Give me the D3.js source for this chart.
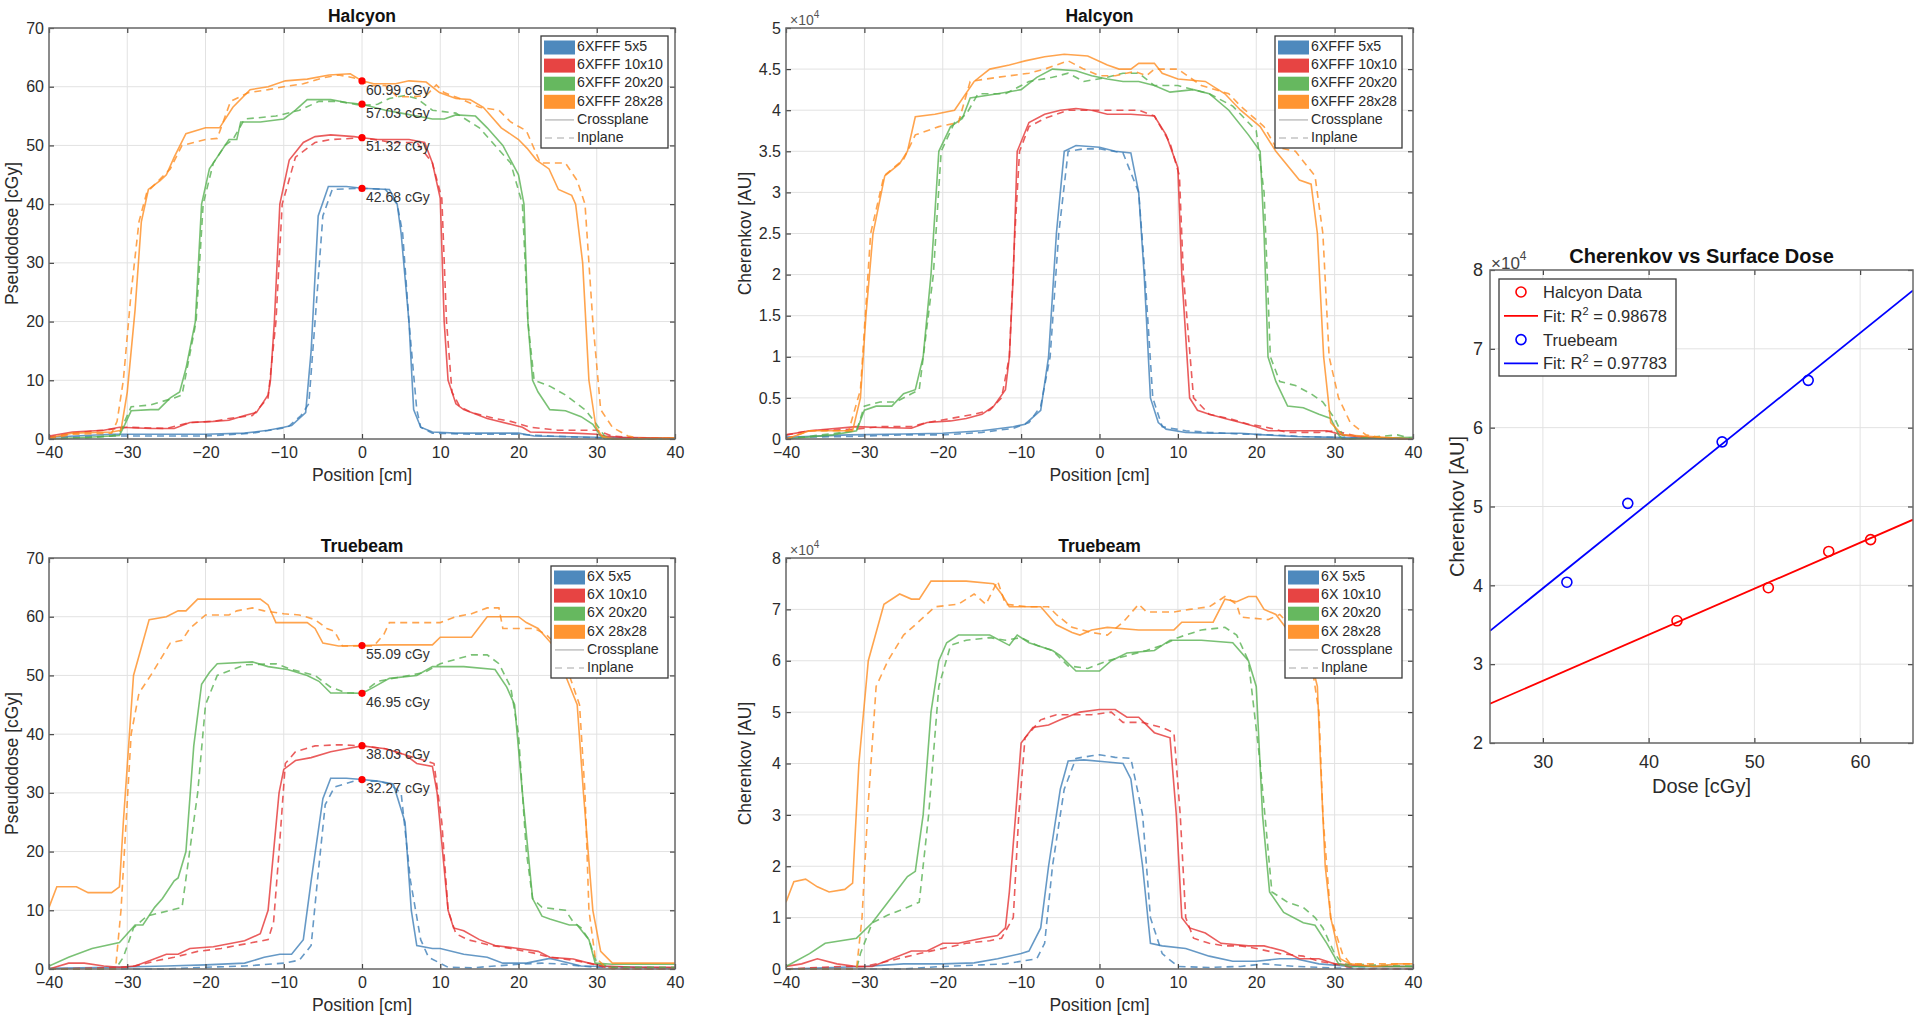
<!DOCTYPE html>
<html><head><meta charset="utf-8">
<script src="https://cdn.jsdelivr.net/npm/d3@7"></script>
<style>
html,body{margin:0;padding:0;background:#fff;}
svg{display:block;font-family:"Liberation Sans",Arial,Helvetica,sans-serif;}
</style></head><body>
<svg id="chart" width="1922" height="1022"></svg>
<script>
// ---------------- DATA ----------------
const positionTicks = [-40,-30,-20,-10,0,10,20,30,40];
const doseTicks = [0,10,20,30,40,50,60,70];
const cherHalTicks = [0,0.5,1,1.5,2,2.5,3,3.5,4,4.5,5];   // x10^4
const cherTbTicks = [0,1,2,3,4,5,6,7,8];                  // x10^4
const halLegend = ["6XFFF 5x5","6XFFF 10x10","6XFFF 20x20","6XFFF 28x28","Crossplane","Inplane"];
const tbLegend = ["6X 5x5","6X 10x10","6X 20x20","6X 28x28","Crossplane","Inplane"];
const halCentralDose = [60.99, 57.03, 51.32, 42.68];
const tbCentralDose = [55.09, 46.95, 38.03, 32.27];

// Halcyon pseudodose [cGy] : [position cm, value]
const hdB_c = [[-40,0.3],[-32,0.8],[-20,0.8],[-15,1],[-12,1.5],[-10,2],[-9,2.3],[-7.2,4.5],[-6.5,15],[-5.6,38],[-4.3,43],[-2,43],[0,42.7],[3.5,42.5],[4.5,40],[5,35],[6,20],[6.6,5],[7.5,2],[9,1.2],[12,1],[20,1],[22,0.5],[30,0.3],[40,0.1]];
const hdB_i = [[-40,0.2],[-32,0.5],[-20,0.5],[-14,1],[-9.5,2],[-7.8,4],[-6.8,6],[-6,20],[-5,38],[-3.8,42.5],[0,42.7],[3,42.5],[4.5,40],[5.2,35],[6,20],[7,5],[7.5,2],[9,1],[14,0.8],[20,0.8],[24,0.5],[30,0.2],[40,0.1]];
const hdR_c = [[-40,0.5],[-37,1.2],[-33,1.5],[-31,2],[-27,1.8],[-24,1.8],[-22,2.8],[-19,3],[-17,3.2],[-15,4],[-13.5,4.5],[-12,7.5],[-11.7,10],[-11.2,20],[-10.5,40],[-9.3,47.5],[-7.5,50.5],[-6,51.5],[-4,51.8],[-1,51.5],[0,51.3],[2,51],[6,51],[8,50.5],[9,47],[10,41],[10.5,20],[11,10],[12,6],[13,5],[14,4.5],[16,3.5],[19,2.5],[20.5,2],[21.5,1.2],[27,1],[30,0.8],[31,0.5],[33,0.3],[40,0.1]];
const hdR_i = [[-40,0.3],[-37,1],[-33,1.5],[-30,2],[-25,1.8],[-22,2.8],[-19,3],[-17,3.5],[-14,4],[-12,7],[-11,20],[-10.2,40],[-8.5,48],[-6,50.5],[-4,51],[0,51.3],[4,50.5],[7,50.5],[9,47],[10.2,41],[10.8,20],[11.5,8],[12.5,5.5],[14,4.5],[17,3.5],[19,3],[21.5,2],[25,1.5],[30,1.5],[32,0.5],[35,0.2],[40,0.1]];
const hdG_c = [[-40,0],[-35,0.3],[-31,0.6],[-30.3,2.5],[-29.5,4.8],[-27,5],[-26,5],[-24.5,7],[-23.3,8],[-22.5,12],[-21.3,20],[-20.5,40],[-19.5,46],[-18.5,48],[-17,51],[-16,51],[-15.5,54],[-13,54],[-10,54.5],[-8.5,56],[-7,57.8],[-4,57.8],[-2,57.3],[0,57],[3,56],[5,55.5],[7,55],[9,54.5],[10.5,54.5],[12,55.2],[14.5,55],[16,53],[18,50],[20,45],[20.7,40],[21.2,20],[21.8,10],[22.5,8],[24,5],[26,4.8],[28,3.8],[29.5,2.5],[30.5,0.5],[31,0],[40,0]];
const hdG_i = [[-40,0],[-35,0.2],[-32,0.5],[-31,1],[-29.5,5.5],[-27,5.8],[-24,7],[-23,7.5],[-21.2,20],[-20.3,40],[-19,47],[-17.5,50],[-16.5,51],[-15,54.5],[-11,55],[-8,56],[-5.5,57.5],[-3,57.5],[0,56.8],[2,57],[3.5,58],[5.5,58.5],[7,58],[9,56],[12,55.5],[15,53],[17,50],[19,47],[20.5,40],[21.2,20],[22,10],[24,9],[26,7.5],[27,6.5],[28.5,5],[29.7,3],[31,0.5],[32,0],[40,0]];
const hdO_c = [[-40,0.2],[-37,1],[-32,1.2],[-30.8,1.5],[-30,8],[-29,22],[-28.2,37],[-27.3,42.5],[-25.8,44],[-25,45],[-24,48],[-22.5,52],[-20,53],[-18.2,53],[-16.5,56.5],[-14.3,59.5],[-12,60],[-9.8,61],[-7,61.3],[-4.2,62],[-1.5,62.2],[0,61],[1.5,60.5],[4.3,60.5],[6,61],[8.2,60.8],[9.9,59],[12,58],[13.8,57.8],[15.5,56.5],[17.8,53],[20,51],[21.1,49.5],[22.3,47.5],[23.9,46],[25.1,42.5],[26.8,41.5],[27.3,40],[28.2,30],[29,10],[29.9,2],[30.7,0.4],[32.4,0],[40,0.2]];
const hdO_i = [[-40,0],[-37,0.8],[-32,1],[-31.3,3],[-30.5,10],[-29.5,25],[-28.5,37],[-27.5,42],[-26,44],[-24.5,46],[-23,50],[-21.5,50.5],[-20,51],[-18.5,51.2],[-16.8,57.5],[-14.5,59],[-12,59.5],[-10,60],[-7.5,60.5],[-5,61.5],[-3,62],[-1,61.5],[0,61],[1,60.2],[3,60.2],[4.5,58.3],[6.5,58.3],[8.2,58.5],[9.5,60.3],[10.5,59],[12.5,58],[15,56.5],[17.5,56],[19,54],[21,52.5],[22.8,47],[26,47],[27.5,44],[28.5,40],[29.5,20],[30.5,5],[32,2],[34,0.5],[36,0],[40,0]];

// Halcyon Cherenkov [x10^4 AU]
const hcB_c = [[-40,0.02],[-32,0.05],[-25,0.06],[-20,0.07],[-15,0.1],[-11,0.15],[-9.5,0.18],[-7.5,0.35],[-6.5,1],[-5.5,2.5],[-4.5,3.5],[-3,3.57],[0,3.55],[2,3.5],[4,3.48],[5,3],[5.7,2],[6.5,0.5],[7.5,0.2],[8.5,0.12],[11,0.08],[14,0.07],[18,0.07],[21,0.05],[25,0.03],[30,0.02],[40,0]];
const hcB_i = [[-40,0.02],[-32,0.03],[-25,0.05],[-20,0.05],[-15,0.08],[-11,0.13],[-9,0.2],[-7.5,0.4],[-6.3,1],[-5.2,2.5],[-4,3.5],[-2,3.53],[0,3.53],[3,3.48],[5,3],[5.8,2],[6.8,0.5],[8,0.15],[11,0.1],[14,0.08],[18,0.06],[22,0.05],[26,0.03],[30,0.02],[40,0]];
const hcR_c = [[-40,0.05],[-37,0.1],[-31,0.15],[-28,0.14],[-24,0.13],[-22,0.2],[-19,0.22],[-17,0.25],[-15,0.3],[-13.5,0.4],[-12,0.6],[-11.5,1],[-11,2],[-10.5,3.5],[-9,3.85],[-7,3.95],[-5,4],[-3,4.02],[-1,4],[1,3.95],[4,3.95],[7,3.93],[8.5,3.7],[10,3.3],[10.5,2],[11.5,0.5],[12.5,0.35],[14,0.3],[16,0.25],[18,0.2],[20,0.15],[21.5,0.1],[25,0.1],[29,0.1],[31,0.05],[34,0.02],[40,0]];
const hcR_i = [[-40,0.05],[-37,0.1],[-31,0.12],[-28,0.15],[-24,0.15],[-22,0.2],[-19,0.25],[-16,0.3],[-14,0.35],[-12.5,0.5],[-11.5,1],[-10.8,2.5],[-10.2,3.5],[-9,3.8],[-7,3.9],[-4,4],[0,4],[5,4],[7,3.93],[9,3.6],[10.2,3.2],[10.7,2],[12,0.5],[14,0.3],[16.5,0.25],[19,0.18],[21,0.15],[24,0.08],[28,0.08],[30,0.1],[33,0.03],[40,0]];
const hcG_c = [[-40,0],[-34,0.05],[-31,0.1],[-30,0.35],[-28.5,0.4],[-26.5,0.4],[-25,0.55],[-23.5,0.6],[-22.5,1],[-21.5,2],[-20.5,3.5],[-19,3.8],[-17.5,3.9],[-16.5,4.15],[-13,4.2],[-10,4.25],[-8,4.4],[-6,4.5],[-3,4.48],[-1,4.42],[1,4.38],[3,4.35],[5,4.35],[7,4.3],[9,4.22],[12,4.25],[14,4.2],[16.5,4],[19,3.7],[20.5,3.5],[21,2.5],[21.5,1],[22.5,0.7],[24,0.4],[26,0.38],[28,0.3],[29.5,0.25],[30.5,0.05],[31,0],[40,0.02]];
const hcG_i = [[-40,0],[-31,0.1],[-30,0.4],[-28,0.45],[-26,0.45],[-24,0.55],[-23,0.6],[-21.2,2],[-20.2,3.5],[-18.5,3.85],[-17,3.95],[-15.5,4.2],[-12,4.2],[-9,4.35],[-6,4.4],[-4,4.45],[-2,4.35],[1,4.4],[3,4.45],[5,4.45],[7,4.3],[10,4.3],[14,4.2],[17,4.05],[20,3.75],[21,3],[21.8,1],[23,0.7],[25,0.65],[27,0.55],[28.5,0.45],[30,0.25],[31,0.05],[32,0],[38,0.05],[40,0]];
const hcO_c = [[-40,0],[-37,0.1],[-31.5,0.1],[-30.5,0.5],[-29.8,1.5],[-28.9,2.5],[-27.4,3.2],[-25.5,3.35],[-24.5,3.5],[-23.5,3.92],[-21,3.95],[-18.5,4.0],[-16,4.35],[-14,4.5],[-11.5,4.55],[-9.5,4.6],[-7,4.65],[-4.5,4.68],[-1.5,4.66],[1,4.55],[2.5,4.5],[4,4.5],[5,4.57],[7,4.57],[8,4.45],[10,4.38],[13.5,4.35],[16,4.2],[18,4.0],[20.5,3.8],[22.5,3.5],[25.5,3.15],[27,3.1],[27.8,2.5],[28.6,1],[29.5,0.2],[31,0.05],[40,0]];
const hcO_i = [[-40,0],[-37,0.1],[-32,0.1],[-30.5,0.6],[-29.2,2.5],[-27.5,3.2],[-25,3.4],[-23.5,3.7],[-20.5,3.8],[-18,3.85],[-16.5,4.35],[-13,4.4],[-9,4.45],[-7,4.5],[-4,4.6],[-2,4.5],[0,4.42],[2,4.42],[4.5,4.47],[6,4.42],[7,4.5],[10,4.5],[13,4.3],[16.5,4.2],[18,4.05],[21,3.8],[22.5,3.55],[25,3.5],[27.5,3.2],[28.5,2.5],[29.3,1],[30.5,0.5],[32,0.2],[34,0.05],[37,0],[40,0]];

// Truebeam pseudodose [cGy]
const tdB_c = [[-40,0.1],[-32,0.3],[-25,0.5],[-20,0.7],[-15,1],[-12.5,2],[-10.5,2.5],[-9,2.5],[-7.5,5],[-6.5,15],[-5,29],[-4,32.5],[-2,32.5],[0,32.27],[2,32],[4,31.5],[5.5,25],[6.3,10],[7,4],[9,3.5],[10,3.5],[13,2.5],[16,2],[18,1],[21,1],[24,1.8],[25,1.5],[28,0.5],[35,0.3],[40,0.2]];
const tdB_i = [[-40,0],[-25,0],[-20,0.3],[-15,0.5],[-12,0.8],[-10,1],[-8,1.5],[-6.5,4],[-5.7,15],[-4.7,28],[-3.5,31],[-1,32],[2,32],[3.5,31.5],[5,30],[6.2,15],[7.5,5],[8.5,2],[11,0.3],[14,0.2],[17,0.5],[20,0.8],[23,1],[26,0.8],[28,0.5],[30,0.3],[40,0.2]];
const tdR_c = [[-40,0],[-37.5,1],[-35.5,1],[-33,0.5],[-31,0.3],[-29,0.5],[-27,1.5],[-25,2.5],[-23.5,2.5],[-22,3.5],[-19,3.8],[-17,4.3],[-15,4.8],[-13,6],[-12,10],[-11.3,20],[-10.6,30],[-10,34],[-8.5,35.5],[-6.5,36],[-4,37],[-2,37.5],[0,38],[3,37.5],[5.5,36.5],[7,35],[9,34.5],[9.6,30],[10.3,20],[11,10],[11.7,7],[13,6.5],[15,5],[17,4],[20,3.5],[22.5,3],[24,2],[27,1.7],[29,1],[31,0.5],[35,0.3],[40,0.3]];
const tdR_i = [[-40,0],[-33,0.2],[-30,0.3],[-28,0.8],[-26,1.5],[-24,2],[-21,3],[-18,3.5],[-16,4],[-14,4.5],[-12,5],[-11.3,8],[-10.6,20],[-9.8,35],[-8.5,37],[-6,38],[-3,38.2],[0,38],[3,37.5],[5.5,36.5],[8,35.5],[9.2,35],[10.2,25],[11,10],[12,6],[13.5,5],[16.5,4],[19,3.5],[22,2.7],[24,2],[27,1.5],[29,1],[31,0.3],[34,0],[40,0]];
const tdG_c = [[-40,0.5],[-37.5,2],[-34.5,3.5],[-31,4.5],[-29,7.5],[-28,7.5],[-26.5,10.5],[-25.5,12],[-24,15],[-23.5,15.5],[-22.5,20],[-21.5,38],[-20.5,48.5],[-19.5,50.5],[-18.5,52],[-14,52.3],[-12,51.5],[-9.5,51],[-7,50],[-5.5,49],[-4,47],[-1.5,47],[0,46.95],[1.5,48],[3.5,49.5],[7,50],[9,51.5],[13,51.5],[17,51],[18.5,48],[19.5,45],[20.5,30],[21.8,12],[23,9],[24,8.5],[26.5,7.5],[27.5,7.5],[29,5],[29.8,1],[32,0.8],[40,0.8]];
const tdG_i = [[-40,0],[-31.5,0],[-30.5,2],[-29.2,7],[-27.5,9],[-24.5,10],[-23,10.5],[-21,30],[-20,45],[-18.5,50],[-15,51.8],[-11,52],[-9,51],[-6,50],[-4,48],[-2,47],[0,47],[2,49],[6,50],[8,50.5],[10,52],[14,53.5],[16,53.5],[17.5,52],[19,48],[20,40],[21,20],[21.8,12],[23,10.5],[26,10],[27,8],[28,7],[29,5],[30,1],[32,0.3],[40,0.3]];
const tdO_c = [[-40,10.5],[-39,14],[-36.5,14],[-35,13],[-32,13],[-31,14],[-30.5,25],[-29.2,50],[-27.2,59.5],[-25,60],[-23.5,61],[-22.5,61],[-21,63],[-17,63],[-13,63],[-12,62],[-11,59],[-7,59],[-6,58],[-5,55.5],[-3,55],[0,55.09],[3,55.2],[9,55.2],[10,56.5],[14,56.5],[16,60],[20,60],[21,59],[22.5,58],[24.5,55],[26,50],[27.5,45],[28.3,30],[29.5,10],[30.5,3],[32,1],[40,1]];
const tdO_i = [[-40,0],[-31.5,0],[-30.8,10],[-29.5,40],[-28.5,47],[-27,50],[-24.5,55.5],[-23,56],[-22,58],[-20,60.3],[-17,60.3],[-16,61],[-14,61.5],[-12.5,61],[-10,60.5],[-8,60.3],[-6,59.5],[-4.5,58],[-3.5,57.5],[-2.5,55],[1.5,55],[2.8,57],[3.5,59],[10,59],[12,60],[14,60.5],[16,61.5],[17.5,61.5],[18,58],[22,58],[23.5,57],[25,55],[26.5,50],[27.8,45],[28.5,30],[29,10],[29.8,2],[31,0.5],[32,0],[40,0]];

// Truebeam Cherenkov [x10^4 AU]
const tcB_c = [[-40,0],[-30,0.05],[-25,0.1],[-20,0.1],[-16,0.12],[-13,0.2],[-10,0.3],[-9,0.35],[-7.5,0.8],[-6.5,2],[-5,3.5],[-4,4.05],[-2,4.07],[1,4.03],[3,4],[4,3.7],[5.5,2],[6.5,0.5],[8,0.45],[11,0.4],[14,0.25],[17,0.15],[20,0.15],[23,0.2],[25,0.2],[28,0.1],[32,0.05],[40,0.05]];
const tcB_i = [[-40,0],[-25,0],[-20,0.05],[-15,0.08],[-12,0.1],[-10,0.15],[-8,0.2],[-7,0.5],[-6,2],[-4.5,3.5],[-3,4.1],[-1,4.15],[0,4.17],[2,4.12],[4,4.1],[5.5,3],[6.5,1],[8,0.3],[10,0.05],[14,0.03],[18,0.05],[21,0.1],[25,0.05],[30,0.02],[40,0]];
const tcR_c = [[-40,0.05],[-38,0.1],[-36,0.2],[-33.5,0.1],[-31,0.05],[-29,0.05],[-26.5,0.2],[-24,0.35],[-22,0.35],[-20,0.5],[-18,0.5],[-15,0.6],[-13,0.65],[-12,0.8],[-11.5,1.5],[-10.7,3],[-10,4.4],[-8.5,4.7],[-6.5,4.75],[-5,4.85],[-2.5,5],[0,5.05],[2,5.05],[3.5,4.9],[5,4.9],[7,4.6],[9,4.5],[9.8,3],[10.5,1],[11.5,0.8],[13.5,0.7],[15.5,0.5],[19,0.45],[21,0.45],[23.5,0.35],[25.5,0.2],[28,0.2],[30,0.1],[35,0.05],[40,0.05]];
const tcR_i = [[-40,0],[-33,0.05],[-30,0.05],[-27,0.15],[-23,0.3],[-20,0.4],[-17,0.5],[-14,0.55],[-12.5,0.6],[-11,1],[-10.3,3],[-9.5,4.5],[-7.5,4.85],[-5.5,4.95],[-1,4.95],[1.5,5.0],[3,4.8],[5.5,4.8],[8,4.7],[9.5,4.6],[10.3,3],[11,1],[12,0.6],[14,0.5],[16,0.45],[18,0.45],[20,0.4],[23,0.3],[26,0.25],[28,0.15],[30,0.1],[33,0],[40,0]];
const tcG_c = [[-40,0.05],[-37,0.3],[-35,0.5],[-31,0.6],[-29,0.9],[-27,1.3],[-24.5,1.8],[-23.5,1.9],[-22.5,3],[-21.5,5],[-20.5,6],[-19.5,6.35],[-18,6.5],[-14,6.5],[-11.5,6.3],[-10.5,6.5],[-9,6.35],[-6,6.2],[-5,6.1],[-3,5.8],[0,5.8],[1.5,6],[3.5,6.15],[7,6.2],[9,6.4],[13,6.4],[17,6.35],[19,6.0],[20,5.5],[20.8,3],[21.7,1.5],[23.5,1.1],[26,0.9],[27.5,0.85],[29,0.5],[30.5,0.1],[32,0.05],[40,0.05]];
const tcG_i = [[-40,0],[-31,0],[-30.5,0.3],[-29,0.9],[-27,1.05],[-24.5,1.2],[-23,1.3],[-21.8,3],[-20.5,5.5],[-19,6.3],[-17,6.4],[-14,6.45],[-12,6.4],[-10,6.45],[-8,6.3],[-6,6.2],[-4,5.9],[-1.5,5.85],[1,6],[3.5,6.1],[6,6.2],[8,6.3],[10,6.45],[13,6.6],[16,6.65],[17.5,6.5],[19,6.0],[20.5,4],[22,1.5],[24,1.3],[26,1.2],[27.5,1],[28.5,0.8],[30,0.3],[31,0.1],[40,0.05]];
const tcO_c = [[-40,1.3],[-39,1.7],[-37.5,1.75],[-36,1.6],[-34.5,1.5],[-32.5,1.55],[-31.5,1.67],[-30.7,4],[-29.5,6],[-27.5,7.1],[-25.5,7.3],[-24,7.2],[-23,7.2],[-21.5,7.55],[-17,7.55],[-13.5,7.5],[-12.5,7.3],[-11.5,7.05],[-7.5,7.05],[-5.5,6.7],[-3.5,6.55],[-2.5,6.5],[-1,6.6],[1,6.65],[5,6.6],[9.5,6.6],[10.5,6.75],[14.5,6.75],[16,7.2],[17.5,7.15],[19,7.25],[20,7.25],[21,7.0],[22.5,6.9],[24,6.6],[27,6.0],[27.8,5.5],[28.2,4],[28.8,2],[29.5,1],[30.7,0.2],[32,0.1],[35,0.05],[38,0.1],[40,0.1]];
const tcO_i = [[-40,0],[-31,0],[-30.3,1],[-29.6,3],[-28.5,5.5],[-27,6],[-25,6.5],[-23.5,6.7],[-21,7.05],[-18,7.1],[-16,7.3],[-14.5,7.1],[-13,7.55],[-12,7.1],[-9,7.05],[-6.5,7.05],[-5.5,6.9],[-3.5,6.65],[-1,6.55],[1,6.5],[3,6.75],[5,7.1],[6,6.95],[9.5,6.95],[11.5,7.0],[14,7.05],[16,7.25],[17.5,7.1],[18,6.85],[21.5,6.8],[23,6.9],[25.5,6.5],[27,6],[28,5],[28.5,3],[29.5,1],[31,0.3],[32,0.1],[40,0.1]];

// Cherenkov vs surface dose
const doseTicks2 = [30,40,50,60];
const cherTicks2 = [2,3,4,5,6,7,8]; // x10^4
const doseHalcyon = [42.68, 51.32, 57.03, 60.99];
const cherHalcyon = [3.55, 3.97, 4.43, 4.58];
const doseTruebeam = [32.27, 38.03, 46.95, 55.09];
const cherTruebeam = [4.04, 5.04, 5.82, 6.60];
const fitLabels = ["0.98678", "0.97783"];

// ---------------- DRAWING ----------------
const svg = d3.select("#chart");
const FONT = '"Liberation Sans", Arial, Helvetica, sans-serif';
const COL = ["#3b7cb6", "#e4302f", "#55b04e", "#ff8a1c"];
const AXC = "#6a6a6a", GRID = "#e2e2e2", TXT = "#2b2b2b";
let clipId = 0;

function frame(g, x, y, xt, yt, yfmt, fs, xpad, ypad) {
  const [L, R] = x.range(), [B, T] = y.range();
  g.append("g").selectAll("line").data(xt).join("line")
    .attr("x1", d => x(d)).attr("x2", d => x(d)).attr("y1", T).attr("y2", B)
    .attr("stroke", GRID).attr("stroke-width", 1);
  g.append("g").selectAll("line").data(yt).join("line")
    .attr("y1", d => y(d)).attr("y2", d => y(d)).attr("x1", L).attr("x2", R)
    .attr("stroke", GRID).attr("stroke-width", 1);
}
function frameTop(g, x, y, xt, yt, yfmt, fs, xpad, ypad) {
  const [L, R] = x.range(), [B, T] = y.range();
  const style = sel => {
    sel.select(".domain").remove();
    sel.selectAll(".tick line").attr("stroke", "#444").attr("stroke-width", 1.2);
    sel.selectAll(".tick text").attr("fill", TXT).style("font-size", fs + "px").style("font-family", FONT);
  };
  g.append("g").attr("transform", `translate(0,${B})`)
    .call(d3.axisBottom(x).tickValues(xt).tickSizeInner(-5).tickSizeOuter(0).tickPadding(xpad).tickFormat(d3.format("d"))).call(style);
  g.append("g").attr("transform", `translate(0,${T})`)
    .call(d3.axisTop(x).tickValues(xt).tickSizeInner(-5).tickSizeOuter(0).tickFormat("")).call(style);
  g.append("g").attr("transform", `translate(${L},0)`)
    .call(d3.axisLeft(y).tickValues(yt).tickSizeInner(-5).tickSizeOuter(0).tickPadding(ypad).tickFormat(yfmt)).call(style);
  g.append("g").attr("transform", `translate(${R},0)`)
    .call(d3.axisRight(y).tickValues(yt).tickSizeInner(-5).tickSizeOuter(0).tickFormat("")).call(style);
  g.append("rect").attr("x", L).attr("y", T).attr("width", R - L).attr("height", B - T)
    .attr("fill", "none").attr("stroke", AXC).attr("stroke-width", 1.5);
}

function profilePanel(p) {
  const g = svg.append("g");
  const x = d3.scaleLinear().domain([-40, 40]).range([p.L, p.R]);
  const y = d3.scaleLinear().domain([0, p.yMax]).range([p.B, p.T]);
  frame(g, x, y, positionTicks, p.yTicks);
  const cid = "clip" + (clipId++);
  g.append("clipPath").attr("id", cid).append("rect")
    .attr("x", p.L).attr("y", p.T - 2).attr("width", p.R - p.L).attr("height", p.B - p.T + 4);
  const line = d3.line().x(d => x(d[0])).y(d => y(d[1]));
  const lg = g.append("g").attr("clip-path", `url(#${cid})`);
  p.series.forEach((s, i) => {
    lg.append("path").datum(s[0]).attr("d", line).attr("fill", "none")
      .attr("stroke", COL[i]).attr("stroke-width", 1.6).attr("stroke-opacity", 0.78);
    lg.append("path").datum(s[1]).attr("d", line).attr("fill", "none")
      .attr("stroke", COL[i]).attr("stroke-width", 1.6).attr("stroke-opacity", 0.78)
      .attr("stroke-dasharray", "7,5");
  });
  frameTop(g, x, y, positionTicks, p.yTicks, d3.format("~g"), 16, 8, 5);
  // annotations
  if (p.marks) {
    p.marks.forEach(v => {
      g.append("circle").attr("cx", x(0)).attr("cy", y(v)).attr("r", 3.6).attr("fill", "#ff0000");
      g.append("text").attr("x", x(0) + 4).attr("y", y(v) + 10).attr("dominant-baseline", "middle")
        .attr("fill", "#333").style("font-size", "14px").text(v.toFixed(2) + " cGy");
    });
  }
  // title / labels
  const cx = (p.L + p.R) / 2;
  g.append("text").attr("x", cx).attr("y", p.T - 6).attr("text-anchor", "middle")
    .style("font-size", "17.5px").style("font-weight", "bold").attr("fill", "#111").text(p.title);
  g.append("text").attr("x", cx).attr("y", p.B + 42).attr("text-anchor", "middle")
    .style("font-size", "17.5px").attr("fill", TXT).text("Position [cm]");
  g.append("text").attr("transform", `translate(${p.ylx},${(p.T + p.B) / 2}) rotate(-90)`)
    .attr("text-anchor", "middle").attr("dominant-baseline", "middle")
    .style("font-size", "17.5px").attr("fill", TXT).text(p.ylabel);
  if (p.exp) {
    const t = g.append("text").attr("x", p.L + 4).attr("y", p.T - 3).attr("fill", "#555").style("font-size", "14px");
    t.append("tspan").text("\u00d710");
    t.append("tspan").attr("dy", -7).style("font-size", "10px").text("4");
  }
  // legend
  const lb = p.legend;
  g.append("rect").attr("x", lb.x).attr("y", lb.y).attr("width", lb.w).attr("height", 112)
    .attr("fill", "#fff").attr("stroke", "#3a3a3a").attr("stroke-width", 1.3);
  p.labels.forEach((lab, i) => {
    const cy = lb.y + 11.5 + i * 18.1;
    if (i < 4) {
      g.append("rect").attr("x", lb.x + 3).attr("y", cy - 7).attr("width", 31).attr("height", 14)
        .attr("fill", COL[i]).attr("fill-opacity", 0.9);
    } else {
      g.append("line").attr("x1", lb.x + 4).attr("x2", lb.x + 33).attr("y1", cy).attr("y2", cy)
        .attr("stroke", "#c4c4c4").attr("stroke-width", 1.6).attr("stroke-dasharray", i === 5 ? "7,5" : null);
    }
    g.append("text").attr("x", lb.x + 36).attr("y", cy).attr("dominant-baseline", "middle")
      .style("font-size", "14.2px").attr("fill", TXT).text(lab);
  });
}

profilePanel({L:49, R:675, T:28, B:439, yMax:70, yTicks:doseTicks, title:"Halcyon",
  ylabel:"Pseudodose [cGy]", ylx:13, exp:false, marks:halCentralDose,
  series:[[hdB_c,hdB_i],[hdR_c,hdR_i],[hdG_c,hdG_i],[hdO_c,hdO_i]],
  legend:{x:541, y:36, w:127}, labels:halLegend});
profilePanel({L:786, R:1413, T:28, B:439, yMax:5, yTicks:cherHalTicks, title:"Halcyon",
  ylabel:"Cherenkov [AU]", ylx:746, exp:true, marks:null,
  series:[[hcB_c,hcB_i],[hcR_c,hcR_i],[hcG_c,hcG_i],[hcO_c,hcO_i]],
  legend:{x:1275, y:36, w:127}, labels:halLegend});
profilePanel({L:49, R:675, T:558, B:969, yMax:70, yTicks:doseTicks, title:"Truebeam",
  ylabel:"Pseudodose [cGy]", ylx:13, exp:false, marks:tbCentralDose,
  series:[[tdB_c,tdB_i],[tdR_c,tdR_i],[tdG_c,tdG_i],[tdO_c,tdO_i]],
  legend:{x:551, y:566, w:117}, labels:tbLegend});
profilePanel({L:786, R:1413, T:558, B:969, yMax:8, yTicks:cherTbTicks, title:"Truebeam",
  ylabel:"Cherenkov [AU]", ylx:746, exp:true, marks:null,
  series:[[tcB_c,tcB_i],[tcR_c,tcR_i],[tcG_c,tcG_i],[tcO_c,tcO_i]],
  legend:{x:1285, y:566, w:117}, labels:tbLegend});

// ---------- scatter / fit panel ----------
(function () {
  const L = 1490, R = 1913, T = 270, B = 743;
  const g = svg.append("g");
  const x = d3.scaleLinear().domain([25, 65]).range([L, R]);
  const y = d3.scaleLinear().domain([2, 8]).range([B, T]);
  frame(g, x, y, doseTicks2, cherTicks2);
  const cid = "clip" + (clipId++);
  g.append("clipPath").attr("id", cid).append("rect").attr("x", L).attr("y", T).attr("width", R - L).attr("height", B - T);
  function fit(xs, ys) {
    const mx = d3.mean(xs), my = d3.mean(ys);
    const sxy = d3.sum(xs, (v, i) => (v - mx) * (ys[i] - my));
    const sxx = d3.sum(xs, v => (v - mx) ** 2);
    const b = sxy / sxx; return [b, my - b * mx];
  }
  const sets = [[doseHalcyon, cherHalcyon, "#ff0000"], [doseTruebeam, cherTruebeam, "#0000ff"]];
  const line = d3.line().x(d => x(d[0])).y(d => y(d[1]));
  sets.forEach(([xs, ys, c]) => {
    const [b, a] = fit(xs, ys);
    const pts = x.domain().map(v => [v, a + b * v]);
    g.append("path").datum(pts).attr("d", line).attr("clip-path", `url(#${cid})`)
      .attr("fill", "none").attr("stroke", c).attr("stroke-width", 1.8);
    g.append("g").selectAll("circle").data(xs).join("circle")
      .attr("cx", d => x(d)).attr("cy", (d, i) => y(ys[i])).attr("r", 5)
      .attr("fill", "none").attr("stroke", c).attr("stroke-width", 1.6);
  });
  frameTop(g, x, y, doseTicks2, cherTicks2, d3.format("d"), 18, 12, 7);
  const cx = (L + R) / 2;
  g.append("text").attr("x", cx).attr("y", T - 7).attr("text-anchor", "middle")
    .style("font-size", "20px").style("font-weight", "bold").attr("fill", "#111").text("Cherenkov vs Surface Dose");
  g.append("text").attr("x", cx).attr("y", B + 50).attr("text-anchor", "middle")
    .style("font-size", "20px").attr("fill", TXT).text("Dose [cGy]");
  g.append("text").attr("transform", `translate(1459,${(T + B) / 2}) rotate(-90)`)
    .attr("text-anchor", "middle").attr("dominant-baseline", "middle")
    .style("font-size", "20px").attr("fill", TXT).text("Cherenkov [AU]");
  const t = g.append("text").attr("x", L + 1).attr("y", T - 1).attr("fill", "#444").style("font-size", "17px");
  t.append("tspan").text("\u00d710");
  t.append("tspan").attr("dy", -9).style("font-size", "12px").text("4");
  // legend
  const lx = 1499, ly = 279, lw = 177, lh = 97;
  g.append("rect").attr("x", lx).attr("y", ly).attr("width", lw).attr("height", lh)
    .attr("fill", "#fff").attr("stroke", "#3a3a3a").attr("stroke-width", 1.3);
  const rows = [["c", "#ff0000", "Halcyon Data"], ["l", "#ff0000", fitLabels[0]], ["c", "#0000ff", "Truebeam"], ["l", "#0000ff", fitLabels[1]]];
  rows.forEach((r, i) => {
    const cy = ly + 13 + i * 23.8;
    if (r[0] === "c") {
      g.append("circle").attr("cx", lx + 22).attr("cy", cy).attr("r", 5).attr("fill", "none").attr("stroke", r[1]).attr("stroke-width", 1.6);
    } else {
      g.append("line").attr("x1", lx + 5).attr("x2", lx + 39).attr("y1", cy).attr("y2", cy).attr("stroke", r[1]).attr("stroke-width", 1.8);
    }
    const tx = g.append("text").attr("x", lx + 44).attr("y", cy + 6).style("font-size", "16.5px").attr("fill", TXT);
    if (r[0] === "c") tx.text(r[2]);
    else {
      tx.append("tspan").text("Fit: R");
      tx.append("tspan").attr("dy", -7).style("font-size", "11px").text("2");
      tx.append("tspan").attr("dy", 7).text(" = " + r[2]);
    }
  });
})();
</script>
</body></html>
